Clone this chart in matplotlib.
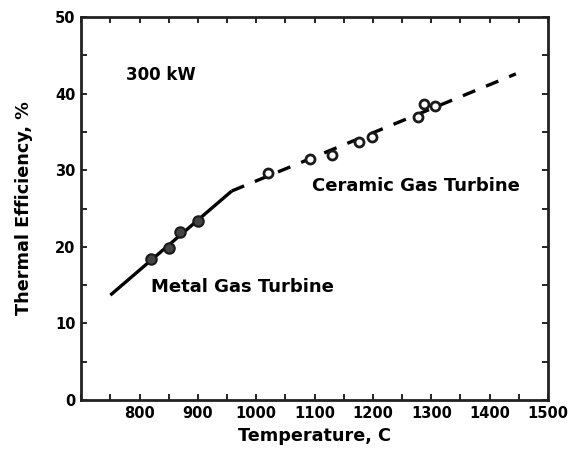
import matplotlib
matplotlib.use("Agg")
import matplotlib.pyplot as plt
from matplotlib.ticker import MultipleLocator

plt.rcParams['font.family'] = ['DejaVu Sans']

# Metal gas turbine: trend line and measured points
metal_line_t = [750, 958]
metal_line_eff = [13.7, 27.3]
metal_pts_t = [820, 850, 870, 900]
metal_pts_eff = [18.4, 19.9, 21.9, 23.4]

# Ceramic gas turbine: trend line and measured points
ceramic_line_t = [958, 1445]
ceramic_line_eff = [27.3, 42.6]
ceramic_pts_t = [1020, 1092, 1130, 1176, 1199, 1278, 1288, 1307]
ceramic_pts_eff = [29.6, 31.5, 32.0, 33.7, 34.4, 37.0, 38.6, 38.4]

x_ticks = [800, 900, 1000, 1100, 1200, 1300, 1400, 1500]
y_ticks = [0, 10, 20, 30, 40, 50]

fig = plt.figure(figsize=(5.72, 4.53), dpi=100)
ax = fig.add_axes([0.142, 0.117, 0.816, 0.845])

ax.plot(metal_line_t, metal_line_eff, color='black', lw=2.4, solid_capstyle='butt')
ax.plot(metal_pts_t, metal_pts_eff, 'o', ms=7.5, mfc='#444444', mec='#1a1a1a', mew=1.5)

ax.plot(ceramic_line_t, ceramic_line_eff, color='black', lw=2.4, dashes=(4, 3.5))
ax.plot(ceramic_pts_t, ceramic_pts_eff, 'o', ms=6.5, mfc='white', mec='#1a1a1a', mew=2)

ax.set_xlim(700, 1500)
ax.set_ylim(0, 50)
ax.set_xticks(x_ticks)
ax.set_yticks(y_ticks)
ax.xaxis.set_minor_locator(MultipleLocator(50))
ax.yaxis.set_minor_locator(MultipleLocator(5))
ax.tick_params(which='both', direction='in', top=True, right=True,
               length=4, width=1.2, labelsize=10.5, pad=4)
for lab in ax.get_xticklabels() + ax.get_yticklabels():
    lab.set_fontweight('bold')
for s in ax.spines.values():
    s.set_linewidth(2)
    s.set_color('#222222')

ax.set_xlabel('Temperature, C', fontsize=12.7, fontweight='bold', labelpad=5)
ax.set_ylabel('Thermal Efficiency, %', fontsize=12.7, fontweight='bold', labelpad=16)

ax.text(776, 42.5, '300 kW', fontsize=12, fontweight='bold', va='center')
ax.text(820, 14.8, 'Metal Gas Turbine', fontsize=13, fontweight='bold', va='center')
ax.text(1095, 27.9, 'Ceramic Gas Turbine', fontsize=13, fontweight='bold', va='center')

fig.savefig('out.png', dpi=100)
